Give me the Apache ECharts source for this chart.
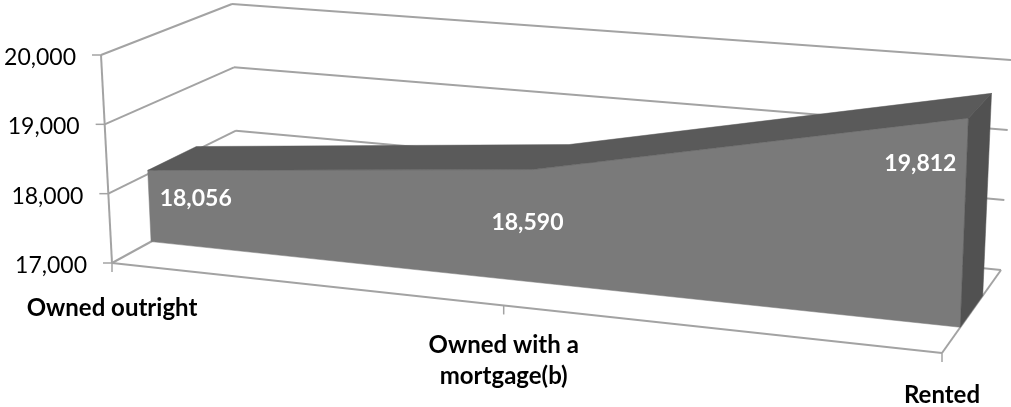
<!DOCTYPE html>
<html>
<head>
<meta charset="utf-8">
<script src="https://cdn.jsdelivr.net/npm/echarts@6/dist/echarts.min.js"></script>
<style>
  html, body { margin: 0; padding: 0; background: #fff; }
  #chart { width: 1011px; height: 407px; }
</style>
</head>
<body>
<div id="chart"></div>
<script>
// data
const categories = ["Owned outright", "Owned with a\nmortgage(b)", "Rented"];
const values = [18056, 18590, 19812];
const valueLabels = ["18,056", "18,590", "19,812"];
const ticks = [17000, 18000, 19000, 20000];
const tickLabels = ["17,000", "18,000", "19,000", "20,000"];

// the 3d box as it lands on screen (corners of floor and walls)
const frontBottom = [[112, 263], [942, 353]];
const frontTop = [[101, 55], [950, 124]];
const backBottom = [[238, 194], [1001, 270]];
const backTop = [[232, 4], [1011, 60]];
const perspective = 1.119; // left side is further away
const areaFront = 0.31;
const areaBack = 0.69;

// label placement, offsets from the point they belong to
const valueLabelShift = [[48, 28], [-5, 53], [-48, 45]];
const categoryDrop = [45, 55, 42];

const FONT = "Lato, sans-serif";
const GRID_COLOR = "#a3a3a3";

function mix(a, b, t) {
  return [a[0] + (b[0] - a[0]) * t, a[1] + (b[1] - a[1]) * t];
}

// u, w, d all 0..1: along categories, up the value axis, into the depth
function project(u, w, d) {
  const k = u / (u + perspective * (1 - u));
  const fb = mix(frontBottom[0], frontBottom[1], k);
  const ft = mix(frontTop[0], frontTop[1], k);
  const bb = mix(backBottom[0], backBottom[1], k);
  const bt = mix(backTop[0], backTop[1], k);
  return mix(mix(fb, ft, w), mix(bb, bt, w), d);
}

// goes through the axes so the scales decide where a value sits
function place(api, index, value, d) {
  const p = api.coord([index, value]);
  return project(p[0] / api.getWidth(), 1 - p[1] / api.getHeight(), d);
}

function line(a, b, width) {
  return {
    type: "line",
    shape: { x1: a[0], y1: a[1], x2: b[0], y2: b[1] },
    style: { stroke: GRID_COLOR, lineWidth: width || 2 }
  };
}

function poly(points, color) {
  return {
    type: "polygon",
    shape: { points: points },
    style: { fill: color, stroke: color, lineWidth: 0.5 }
  };
}

function text(str, x, y, opts) {
  return {
    type: "text",
    style: Object.assign({
      text: str, x: x, y: y, fontFamily: FONT, fill: "#000",
      align: "center", verticalAlign: "middle"
    }, opts)
  };
}

function renderWalls(params, api) {
  const last = categories.length - 1;
  const items = [];
  ticks.forEach((t, i) => {
    const front = place(api, 0, t, 0);
    const corner = place(api, 0, t, 1);
    const end = place(api, last, t, 1);
    items.push(line(front, corner), line(corner, end));
    items.push(line([front[0] - 9, front[1]], front, 1.5));
    items.push(text(tickLabels[i], front[0] - 25, front[1] + 2.5, { fontSize: 23, align: "right" }));
  });
  items.push(line(place(api, 0, ticks[0], 0), place(api, 0, ticks[3], 0)));
  // floor
  items.push(line(place(api, 0, ticks[0], 0), place(api, last, ticks[0], 0)));
  items.push(line(place(api, last, ticks[0], 0), place(api, last, ticks[0], 1)));
  categories.forEach((c, i) => {
    const p = place(api, i, ticks[0], 0);
    items.push(line(p, [p[0], p[1] + 9], 1.5));
    items.push(text(c, p[0], p[1] + categoryDrop[i], { fontSize: 24, fontWeight: "bold", lineHeight: 31 }));
  });
  return { type: "group", children: items };
}

function renderArea(params, api) {
  if (params.dataIndex !== 0) return null;
  const last = values.length - 1;
  const front = values.map((v, i) => place(api, i, v, areaFront));
  const back = values.map((v, i) => place(api, i, v, areaBack));
  const frontFloor = [place(api, last, ticks[0], areaFront), place(api, 0, ticks[0], areaFront)];
  const backFloor = place(api, last, ticks[0], areaBack);
  const items = [
    poly(front.concat(frontFloor), "#7a7a7a"),
    poly(front.concat(back.slice().reverse()), "#5a5a5a"),
    poly([front[last], back[last], backFloor, frontFloor[0]], "#515151")
  ];
  front.forEach((p, i) => {
    items.push(text(valueLabels[i], p[0] + valueLabelShift[i][0], p[1] + valueLabelShift[i][1], {
      fontSize: 23, fontWeight: "bold", fill: "#fff"
    }));
  });
  return { type: "group", children: items };
}

const chart = echarts.init(document.getElementById("chart"), null, { renderer: "canvas" });
chart.setOption({
  animation: false,
  backgroundColor: "#fff",
  grid: { left: 0, right: 0, top: 0, bottom: 0 },
  xAxis: { type: "category", data: categories, boundaryGap: false, show: false },
  yAxis: { type: "value", min: 17000, max: 20000, interval: 1000, show: false },
  series: [
    {
      type: "custom", coordinateSystem: "cartesian2d", z: 1, silent: true,
      data: [[0, ticks[0]]], renderItem: renderWalls
    },
    {
      type: "custom", coordinateSystem: "cartesian2d", z: 2, silent: true,
      data: values.map((v, i) => [i, v]), encode: { x: 0, y: 1 }, renderItem: renderArea
    }
  ]
});
</script>
</body>
</html>
